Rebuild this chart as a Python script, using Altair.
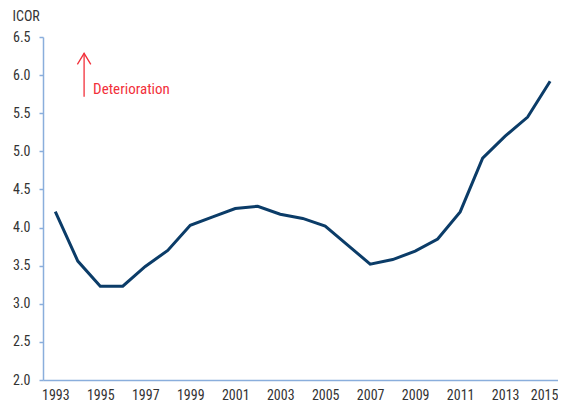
import altair as alt
import pandas as pd

years = list(range(1993, 2016))
icor = [4.21, 3.56, 3.23, 3.23, 3.49, 3.70, 4.03, 4.14, 4.25, 4.28, 4.175, 4.12,
        4.02, 3.77, 3.52, 3.58, 3.69, 3.85, 4.205, 4.91, 5.20, 5.45, 5.92]
tick_years = list(range(1993, 2016, 2))
y_ticks = [2.0, 2.5, 3.0, 3.5, 4.0, 4.5, 5.0, 5.5, 6.0, 6.5]

# annotation (arrow + label) positions in data units
arrow_x = [1994.28]
arrow_y_from = [5.716]
arrow_y_to = [6.286]
label_x = [1994.68]
label_y = [5.814]
label_text = ["Deterioration"]

FONT = "'Roboto Condensed', 'DejaVu Sans Condensed', 'Liberation Sans Narrow', Roboto, sans-serif"
NAVY = "#0b3c68"
AXIS = "#8aaedc"
RED = "#f2303a"

df = pd.DataFrame({"year": years, "icor": icor})
arrow_df = pd.DataFrame({"x": arrow_x, "y1": arrow_y_from, "y2": arrow_y_to})
label_df = pd.DataFrame({"x": label_x, "y": label_y, "t": label_text})

xscale = alt.Scale(domain=[1992.453, 2015.35], nice=False, zero=False)
yscale = alt.Scale(domain=[2.0, 6.5], nice=False, zero=False)

x_axis = alt.Axis(values=tick_years, format="d", title=None, grid=False,
                  domainColor=AXIS, domainWidth=1.5, ticks=False,
                  labelPadding=8, labelFont=FONT, labelFontSize=14,
                  labelColor="#333333", labelFlush=False, labelOverlap=False,
                  labelOffset=alt.condition("datum.value == 2015",
                                            alt.value(-6), alt.value(0)))
y_axis = alt.Axis(values=y_ticks, format=".1f", title="ICOR", grid=False,
                  domainColor=AXIS, domainWidth=1.5, tickColor=AXIS,
                  tickSize=4, tickWidth=1.5, labelPadding=9,
                  labelOverlap=False, labelFlush=False,
                  labelFont=FONT, labelFontSize=14, labelColor="#333333",
                  titleFont=FONT, titleFontSize=14, titleFontWeight="normal",
                  titleColor="#333333", titleAngle=0, titleAlign="left",
                  titleBaseline="top", titleX=-31, titleY=-28)

line = alt.Chart(df).mark_line(color=NAVY, strokeWidth=3, strokeJoin="miter").encode(
    x=alt.X("year:Q", scale=xscale, axis=x_axis),
    y=alt.Y("icor:Q", scale=yscale, axis=y_axis),
)

shaft = alt.Chart(arrow_df).mark_rule(color=RED, strokeWidth=1.3).encode(
    x=alt.X("x:Q", scale=xscale, axis=x_axis),
    y=alt.Y("y1:Q", scale=yscale, axis=y_axis), y2="y2:Q"
)
head = alt.Chart(arrow_df).mark_point(
    shape="M-0.61,1L0,0L0.61,1", filled=False, color=RED, strokeWidth=1.3,
    size=484, opacity=1
).encode(x=alt.X("x:Q", scale=xscale, axis=x_axis),
         y=alt.Y("y2:Q", scale=yscale, axis=y_axis))

label = alt.Chart(label_df).mark_text(
    align="left", baseline="middle", font=FONT, fontSize=15, color=RED
).encode(x=alt.X("x:Q", scale=xscale, axis=x_axis),
         y=alt.Y("y:Q", scale=yscale, axis=y_axis), text="t:N")

chart = alt.layer(line, shaft, head, label).properties(
    width=515, height=343,
    autosize=alt.AutoSizeParams(type="none"),
    padding={"left": 35, "top": 29, "right": 0, "bottom": 23},
    background="white",
).configure_view(stroke=None)

chart.save("out.html", embed_options={"renderer": "svg", "actions": False})
